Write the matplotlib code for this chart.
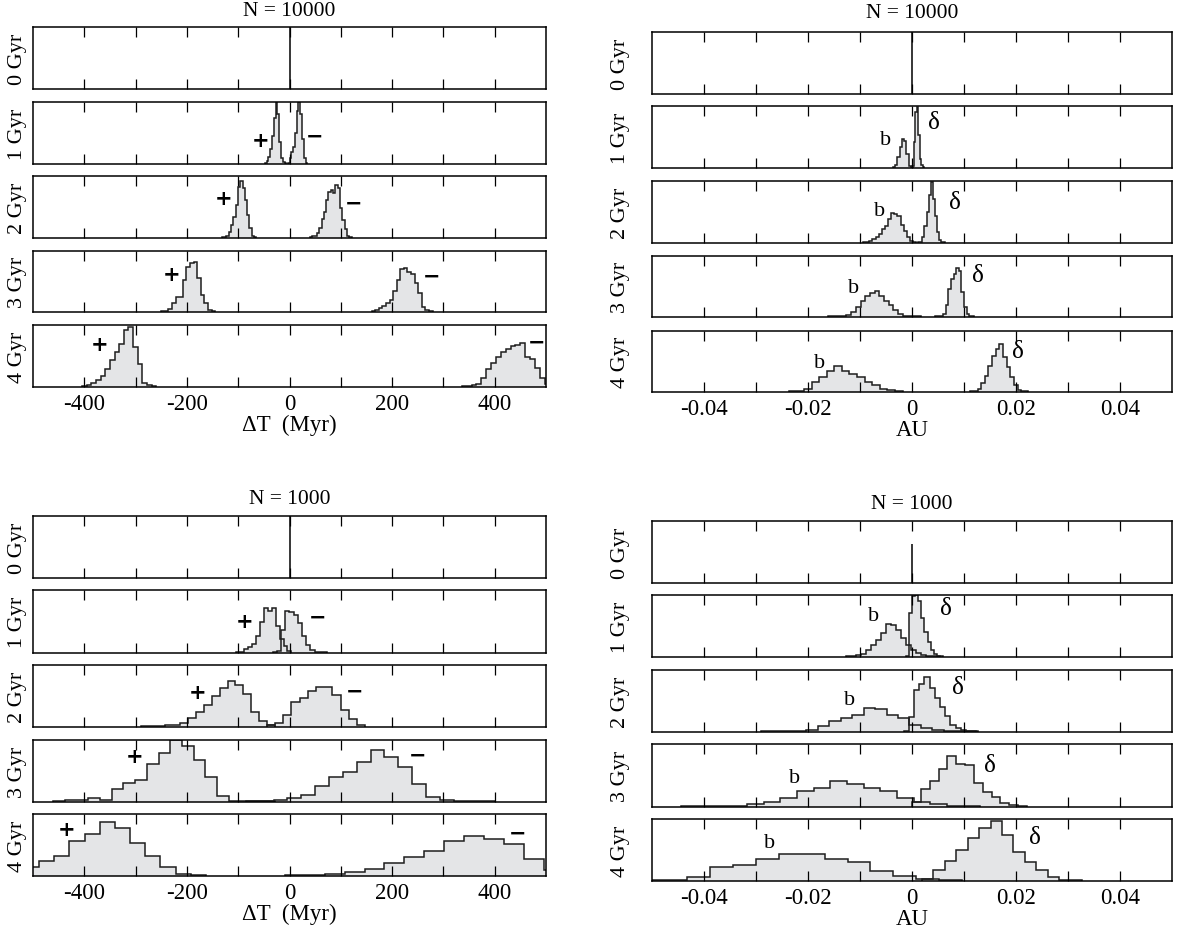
import numpy as np
import matplotlib
matplotlib.use("Agg")
import matplotlib.pyplot as plt

plt.rcParams['font.family'] = ['Liberation Serif', 'DejaVu Serif']
plt.rcParams['axes.unicode_minus'] = False

# ---------------- data (heights are fraction of panel height) ----------------
ages = ["0 Gyr", "1 Gyr", "2 Gyr", "3 Gyr", "4 Gyr"]
zero_peak = [1.0, 1.0, 1.0, 0.63]   # 0 Gyr spike: TL, TR, BL, BR

# N = 10000, Delta T (Myr)   rows 1..4 Gyr
dt10k_plus_start = [-48, -132, -250, -404]
dt10k_plus_width = [3.5, 4.5, 7, 9]
dt10k_plus_h = [
    [0.02, 0.05, 0.12, 0.25, 0.45, 0.75, 1.0, 0.80, 0.35, 0.10, 0.03, 0.01],
    [0.01, 0.02, 0.03, 0.09, 0.21, 0.34, 0.53, 0.82, 0.92, 0.80, 0.61, 0.37, 0.16, 0.03, 0.01],
    [0.01, 0.02, 0.05, 0.15, 0.24, 0.25, 0.52, 0.74, 0.80, 0.82, 0.55, 0.28, 0.15, 0.04, 0.01],
    [0.01, 0.03, 0.07, 0.11, 0.18, 0.29, 0.43, 0.56, 0.70, 0.92, 0.97, 0.64, 0.37, 0.07, 0.03, 0.01],
]
dt10k_minus_start = [-3.5, 40, 160, 336]
dt10k_minus_width = [3.5, 4.5, 7, 9.5]
dt10k_minus_h = [
    [0.02, 0.10, 0.20, 0.28, 0.50, 0.85, 1.0, 0.80, 0.40, 0.10, 0.02],
    [0.01, 0.03, 0.04, 0.08, 0.16, 0.31, 0.42, 0.61, 0.75, 0.77, 0.73, 0.85, 0.81, 0.48, 0.29, 0.15, 0.04, 0.01],
    [0.01, 0.03, 0.06, 0.10, 0.14, 0.20, 0.34, 0.52, 0.71, 0.72, 0.66, 0.62, 0.47, 0.31, 0.09, 0.03, 0.01],
    [0.01, 0.02, 0.03, 0.05, 0.15, 0.29, 0.38, 0.49, 0.56, 0.62, 0.66, 0.68, 0.71, 0.49, 0.45, 0.31, 0.14, 0.05],
]

# N = 10000, AU
au10k_b_start = [-0.0037, -0.0094, -0.0162, -0.0237]
au10k_b_width = [0.00044, 0.0006, 0.0009, 0.00146]
au10k_b_h = [
    [0.02, 0.05, 0.18, 0.34, 0.47, 0.43, 0.23, 0.04, 0.01],
    [0.01, 0.02, 0.04, 0.06, 0.09, 0.15, 0.22, 0.28, 0.38, 0.48, 0.46, 0.44, 0.29, 0.20, 0.09, 0.03, 0.01],
    [0.01, 0.01, 0.01, 0.02, 0.04, 0.09, 0.16, 0.27, 0.34, 0.39, 0.43, 0.34, 0.27, 0.19, 0.11, 0.05, 0.02, 0.02, 0.01, 0.01],
    [0.01, 0.02, 0.05, 0.17, 0.24, 0.34, 0.42, 0.35, 0.30, 0.24, 0.16, 0.11, 0.05, 0.03, 0.01],
]
au10k_d_start = [0.0, 0.0012, 0.0045, 0.0112]
au10k_d_width = [0.0003, 0.0004, 0.0005, 0.0007]
au10k_d_h = [
    [0.04, 0.42, 0.90, 0.98, 0.53, 0.15, 0.05, 0.01],
    [0.01, 0.02, 0.09, 0.28, 0.50, 0.77, 0.98, 0.71, 0.44, 0.17, 0.05, 0.02, 0.01],
    [0.01, 0.01, 0.02, 0.05, 0.19, 0.46, 0.62, 0.70, 0.81, 0.76, 0.41, 0.16, 0.05, 0.02, 0.01],
    [0.01, 0.02, 0.05, 0.14, 0.27, 0.43, 0.59, 0.70, 0.78, 0.57, 0.41, 0.24, 0.11, 0.04, 0.02, 0.01],
]

# N = 1000, Delta T (Myr)
dt1k_plus_start = [-104, -289, -460.5, -518]
dt1k_plus_width = [7.7, 15.3, 22.8, 29.6]
dt1k_plus_h = [
    [0.01, 0.02, 0.06, 0.10, 0.15, 0.27, 0.49, 0.72, 0.67, 0.71, 0.43, 0.23, 0.11, 0.03],
    [0.01, 0.01, 0.01, 0.03, 0.03, 0.06, 0.14, 0.24, 0.36, 0.50, 0.63, 0.74, 0.67, 0.53, 0.24, 0.09, 0.03],
    [0.02, 0.03, 0.03, 0.07, 0.03, 0.21, 0.30, 0.36, 0.62, 0.79, 1.0, 0.91, 0.67, 0.40, 0.09, 0.02, 0.01, 0.01, 0.01],
    [0.14, 0.25, 0.33, 0.56, 0.68, 0.87, 0.78, 0.54, 0.33, 0.14, 0.03, 0.01],
]
dt1k_minus_start = [-33.1, -44.5, -85, -9]
dt1k_minus_width = [8.2, 16, 27, 38.8]
dt1k_minus_h = [
    [0.01, 0.03, 0.37, 0.67, 0.65, 0.60, 0.48, 0.27, 0.12, 0.05, 0.02, 0.01, 0.01],
    [0.03, 0.06, 0.20, 0.40, 0.47, 0.58, 0.64, 0.64, 0.51, 0.27, 0.13, 0.03],
    [0.01, 0.02, 0.03, 0.06, 0.11, 0.26, 0.40, 0.48, 0.65, 0.84, 0.73, 0.56, 0.29, 0.08, 0.04, 0.01, 0.01, 0.01],
    [0.01, 0.01, 0.04, 0.07, 0.12, 0.21, 0.30, 0.40, 0.56, 0.64, 0.60, 0.52, 0.28, 0.09],
]

# N = 1000, AU
au1k_b_start = [-0.0126, -0.0291, -0.0445, -0.052]
au1k_b_width = [0.00095, 0.0022, 0.0032, 0.0044]
au1k_b_h = [
    [0.01, 0.01, 0.03, 0.05, 0.11, 0.20, 0.27, 0.39, 0.53, 0.51, 0.43, 0.30, 0.19, 0.11, 0.06, 0.04, 0.02, 0.01, 0.01],
    [0.01, 0.01, 0.01, 0.02, 0.04, 0.10, 0.18, 0.22, 0.28, 0.38, 0.37, 0.28, 0.22, 0.11, 0.07, 0.04, 0.02, 0.01, 0.01],
    [0.01, 0.01, 0.01, 0.02, 0.04, 0.08, 0.15, 0.26, 0.30, 0.41, 0.37, 0.30, 0.26, 0.15, 0.08, 0.04, 0.02, 0.01],
    [0.01, 0.02, 0.06, 0.22, 0.26, 0.36, 0.43, 0.44, 0.36, 0.30, 0.16, 0.08, 0.03, 0.01],
]
au1k_d_start = [-0.0012, -0.0016, 0.0, 0.0019]
au1k_d_width = [0.0006, 0.001, 0.0017, 0.0022]
au1k_d_h = [
    [0.02, 0.71, 0.99, 1.0, 0.90, 0.63, 0.41, 0.25, 0.11, 0.05, 0.02, 0.01],
    [0.02, 0.25, 0.68, 0.78, 0.89, 0.71, 0.55, 0.40, 0.26, 0.11, 0.07, 0.03, 0.02, 0.01],
    [0.08, 0.29, 0.41, 0.61, 0.81, 0.68, 0.66, 0.38, 0.24, 0.16, 0.06, 0.03, 0.01],
    [0.03, 0.17, 0.33, 0.50, 0.69, 0.85, 0.96, 0.75, 0.47, 0.31, 0.17, 0.06, 0.02, 0.01],
]

# label positions (x in data units, y as fraction of panel height)
tl_marks = [[(-57, 0.39), (49, 0.46)], [(-129, 0.65), (124, 0.57)],
            [(-230, 0.62), (277, 0.60)], [(-370, 0.69), (481, 0.74)]]
bl_marks = [[(-88, 0.50), (55, 0.58)], [(-179, 0.56), (126, 0.59)],
            [(-302, 0.74), (250, 0.76)], [(-434, 0.75), (444, 0.70)]]
tr_marks = [[(-0.0050, 0.46), (0.0043, 0.74)], [(-0.0063, 0.52), (0.0083, 0.66)],
            [(-0.0113, 0.49), (0.0126, 0.69)], [(-0.0178, 0.48), (0.0204, 0.68)]]
br_marks = [[(-0.0074, 0.67), (0.0065, 0.79)], [(-0.0121, 0.52), (0.0088, 0.72)],
            [(-0.0225, 0.47), (0.0150, 0.67)], [(-0.0273, 0.62), (0.0237, 0.71)]]

dt_ticks = [-400, -300, -200, -100, 0, 100, 200, 300, 400]
dt_labels = ["-400", "", "-200", "", "0", "", "200", "", "400"]
au_ticks = [-0.04, -0.03, -0.02, -0.01, 0, 0.01, 0.02, 0.03, 0.04]
au_labels = ["-0.04", "", "-0.02", "", "0", "", "0.02", "", "0.04"]

FILL = "#e4e5e7"
EDGE = "#1e1e1e"
W, H = 1180, 929

fig = plt.figure(figsize=(W / 100, H / 100), dpi=100)


def box(x0, x1, y0, y1):
    return [x0 / W, 1 - y1 / H, (x1 - x0) / W, (y1 - y0) / H]


def hist(ax, start, width, heights):
    edges = start + width * np.arange(len(heights) + 1)
    ax.stairs(heights, edges, fill=True, color=FILL, lw=0)
    return edges


def quadrant(xr, rows, xlim, ticks, labels, spike, h1, h2, marks, signs, title, title_y, xlabel, ypad):
    sym_fonts = {"+": ("DejaVu Sans", "bold", 15), "\u2212": ("DejaVu Sans", "bold", 15),
                 "b": ("Liberation Serif", "normal", 16), "\u03b4": ("Liberation Serif", "normal", 18)}
    for i, (y0, y1) in enumerate(rows):
        ax = fig.add_axes(box(xr[0], xr[1], y0, y1))
        ax.set_xlim(*xlim)
        ax.set_ylim(0, 1.0)
        ax.set_yticks([])
        ax.set_xticks(ticks)
        ax.tick_params(axis='x', direction='in', top=True, bottom=True, length=7,
                       width=0.9, labelsize=16.5, pad=4)
        ax.set_xticklabels(labels if i == 4 else [])
        for s in ax.spines.values():
            s.set_linewidth(1.1)
        ax.set_ylabel(ages[i], fontsize=16, labelpad=ypad)
        if i == 0:
            ax.vlines(0, 0, spike, color="black", lw=1.1)
            continue
        st1, w1, hh1 = h1[0][i - 1], h1[1][i - 1], h1[2][i - 1]
        st2, w2, hh2 = h2[0][i - 1], h2[1][i - 1], h2[2][i - 1]
        e1 = hist(ax, st1, w1, hh1)
        e2 = hist(ax, st2, w2, hh2)
        ax.stairs(hh1, e1, color=EDGE, lw=1.1)
        ax.stairs(hh2, e2, color=EDGE, lw=1.1)
        for (mx, my), sym in zip(marks[i - 1], signs):
            fam, wt, fs = sym_fonts[sym]
            ax.text(mx, my, sym, family=fam, fontweight=wt, fontsize=fs,
                    ha='center', va='center', transform=ax.get_xaxis_transform())
        if i == 4:
            ax.set_xlabel(xlabel, fontsize=16.5, labelpad=0)
    fig.text((xr[0] + xr[1]) / 2 / W, 1 - title_y / H, title, fontsize=15.5,
             ha='center', va='center')


quadrant((33, 546), [(28, 90), (103, 165), (177, 239), (252, 313), (326, 388)],
         (-500, 500), dt_ticks, dt_labels, zero_peak[0],
         (dt10k_plus_start, dt10k_plus_width, dt10k_plus_h),
         (dt10k_minus_start, dt10k_minus_width, dt10k_minus_h),
         tl_marks, ["+", "\u2212"], "N = 10000", 12, "\u0394T  (Myr)", 4)

quadrant((652, 1172), [(33, 95), (107, 169), (182, 244), (257, 318), (332, 393)],
         (-0.05, 0.05), au_ticks, au_labels, zero_peak[1],
         (au10k_b_start, au10k_b_width, au10k_b_h),
         (au10k_d_start, au10k_d_width, au10k_d_h),
         tr_marks, ["b", "\u03b4"], "N = 10000", 14, "AU", 16)

quadrant((33, 546), [(517, 579), (591, 654), (666, 728), (741, 803), (815, 877)],
         (-500, 500), dt_ticks, dt_labels, zero_peak[2],
         (dt1k_plus_start, dt1k_plus_width, dt1k_plus_h),
         (dt1k_minus_start, dt1k_minus_width, dt1k_minus_h),
         bl_marks, ["+", "\u2212"], "N = 1000", 500, "\u0394T  (Myr)", 4)

quadrant((652, 1172), [(522, 584), (596, 658), (671, 733), (745, 808), (820, 882)],
         (-0.05, 0.05), au_ticks, au_labels, zero_peak[3],
         (au1k_b_start, au1k_b_width, au1k_b_h),
         (au1k_d_start, au1k_d_width, au1k_d_h),
         br_marks, ["b", "\u03b4"], "N = 1000", 505, "AU", 16)

fig.savefig("out.png", dpi=100)
